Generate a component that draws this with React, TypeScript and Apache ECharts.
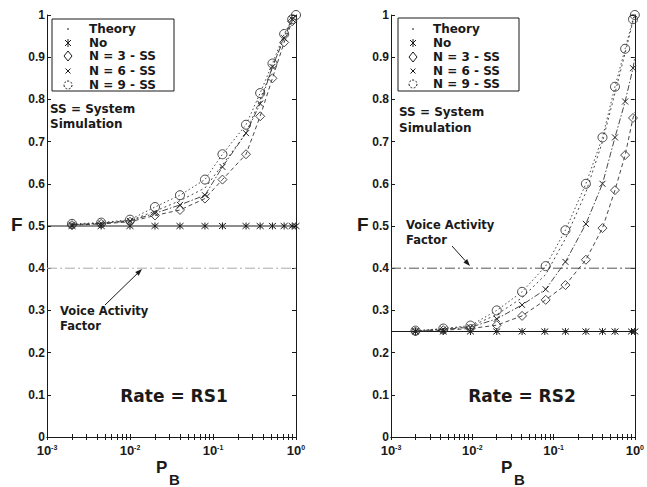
import React, { useEffect, useRef } from "react";
import * as echarts from "echarts";

// ---------- data ----------
const Y_TICKS = [0, 0.1, 0.2, 0.3, 0.4, 0.5, 0.6, 0.7, 0.8, 0.9, 1];
const X_LABELS = [0.001, 0.01, 0.1, 1];
const X_TICKS = [
  0.001, 0.002, 0.003, 0.004, 0.005, 0.006, 0.007, 0.008, 0.009,
  0.01, 0.02, 0.03, 0.04, 0.05, 0.06, 0.07, 0.08, 0.09,
  0.1, 0.2, 0.3, 0.4, 0.5, 0.6, 0.7, 0.8, 0.9, 1,
];
const VOICE_ACTIVITY = 0.4;
const VA_PB = [0.001, 1];

// Left panel: Rate = RS1
const L_NO_PB = [0.001, 0.002, 0.0045, 0.01, 0.02, 0.04, 0.08, 0.13, 0.25, 0.37, 0.52, 0.72, 0.9, 1.0];
const L_NO = [0.5, 0.5, 0.5, 0.5, 0.5, 0.5, 0.5, 0.5, 0.5, 0.5, 0.5, 0.5, 0.5, 0.5];
const L_PB = [0.002, 0.0045, 0.01, 0.02, 0.04, 0.08, 0.13, 0.25, 0.37, 0.52, 0.72, 0.9, 1.0];
const L_THEORY = [0.503, 0.507, 0.513, 0.535, 0.56, 0.59, 0.645, 0.72, 0.8, 0.875, 0.95, 0.99, 1.0];
const L_N3 = [0.502, 0.505, 0.51, 0.525, 0.538, 0.565, 0.61, 0.67, 0.76, 0.85, 0.935, 0.985, 1.0];
const L_N6 = [0.503, 0.506, 0.512, 0.53, 0.55, 0.573, 0.64, 0.72, 0.79, 0.877, 0.945, 0.99, 1.0];
const L_N9 = [0.505, 0.508, 0.515, 0.545, 0.573, 0.61, 0.67, 0.74, 0.815, 0.885, 0.955, 0.99, 1.0];

// Right panel: Rate = RS2
const R_NO_PB = [0.001, 0.002, 0.0044, 0.0095, 0.02, 0.041, 0.078, 0.14, 0.25, 0.4, 0.57, 0.91, 1.0];
const R_NO = [0.25, 0.25, 0.25, 0.25, 0.25, 0.25, 0.25, 0.25, 0.25, 0.25, 0.25, 0.25, 0.25];
const R_PB = [0.002, 0.0044, 0.0095, 0.02, 0.041, 0.08, 0.14, 0.25, 0.4, 0.57, 0.76, 0.95, 1.0];
const R_THEORY = [0.251, 0.256, 0.262, 0.29, 0.33, 0.385, 0.47, 0.58, 0.7, 0.815, 0.91, 0.985, 1.0];
const R_N3 = [0.25, 0.253, 0.257, 0.265, 0.287, 0.325, 0.36, 0.42, 0.495, 0.585, 0.668, 0.756, 0.77];
const R_N6 = [0.251, 0.255, 0.26, 0.28, 0.313, 0.35, 0.415, 0.505, 0.6, 0.71, 0.795, 0.874, 0.9];
const R_N9 = [0.252, 0.257, 0.264, 0.3, 0.344, 0.405, 0.49, 0.6, 0.71, 0.83, 0.92, 0.99, 1.0];

const LEGEND = ["Theory", "No", "N = 3 - SS", "N = 6 - SS", "N = 9 - SS"];

// ---------- styles ----------
const FONT = "Liberation Sans";
const FONT_T = "DejaVu Sans";
const INK = "#1a1a1a";
const ASTERISK = "path://M0,0L10,10M10,0L0,10M5,-1L5,11";
const XMARK = "path://M0,0L10,10M10,0L0,10";

const GRIDS = [
  { left: 47, top: 15, width: 249, height: 422 },
  { left: 391, top: 15, width: 249, height: 422 },
];

function zip(xs: number[], ys: number[]) {
  return xs.map((x, i) => [x, ys[i]]);
}

function xAxes(gridIndex: number) {
  const base = {
    type: "log" as const,
    logBase: 10,
    min: 0.001,
    max: 1,
    gridIndex,
    axisLine: { show: true, lineStyle: { color: INK, width: 1 } },
    axisTick: { show: true, inside: true, length: 3, customValues: X_TICKS, lineStyle: { color: INK } },
    minorTick: { show: false },
    splitLine: { show: false },
    minorSplitLine: { show: false },
  };
  return [
    {
      ...base,
      position: "bottom",
      axisLabel: {
        margin: 7,
        customValues: X_LABELS,
        formatter: (v: number) => {
          const e = Math.round(Math.log10(v));
          return `{b|10}{s|${e}}`;
        },
        rich: {
          b: { fontFamily: FONT, fontWeight: "bold", fontSize: 13, lineHeight: 13, padding: [3, 0, 0, 0], verticalAlign: "bottom", color: INK },
          s: { fontFamily: FONT, fontWeight: "bold", fontSize: 7, lineHeight: 8, verticalAlign: "top", color: INK },
        },
      },
    },
    { ...base, position: "top", axisLabel: { show: false } },
  ];
}

function yAxes(gridIndex: number) {
  const base = {
    type: "value" as const,
    min: 0,
    max: 1,
    interval: 0.1,
    gridIndex,
    axisLine: { show: true, lineStyle: { color: INK, width: 1 } },
    axisTick: { show: true, inside: true, length: 4, lineStyle: { color: INK } },
    splitLine: { show: false },
  };
  return [
    {
      ...base,
      position: "left",
      axisLabel: {
        margin: 2,
        fontFamily: FONT,
        fontWeight: "bold",
        fontSize: 12,
        color: INK,
        formatter: (v: number) => {
          const r = Math.round(v * 10) / 10;
          return Y_TICKS.includes(r) ? (r === 0 ? "0" : r === 1 ? "1" : r.toFixed(1)) : "";
        },
      },
    },
    { ...base, position: "right", axisLabel: { show: false } },
  ];
}

function panelSeries(
  p: number,
  noPb: number[],
  no: number[],
  pb: number[],
  th: number[],
  n3: number[],
  n6: number[],
  n9: number[],
  vaColor: string
) {
  const xi = p * 2;
  const yi = p * 2;
  const common = { xAxisIndex: xi, yAxisIndex: yi, silent: true, clip: false };
  const last = pb.length - 1;
  const noEnd = (arr: number[][]) => arr.map((d, i) => (i === last ? { value: d, symbol: "none" } : d));
  return [
    {
      ...common,
      type: "line",
      name: "Voice Activity Factor",
      data: zip(VA_PB, [VOICE_ACTIVITY, VOICE_ACTIVITY]),
      symbol: "none",
      lineStyle: { color: vaColor, width: 1, type: [10, 3, 2, 3] },
    },
    {
      ...common,
      type: "line",
      name: "No",
      data: zip(noPb, no).map((d, i) => (i === 0 ? { value: d, symbol: "none" } : d)),
      symbol: ASTERISK,
      symbolSize: 7,
      itemStyle: { color: "none", borderColor: INK, borderWidth: 1 },
      lineStyle: { color: INK, width: 1 },
    },
    {
      ...common,
      type: "line",
      name: "Theory",
      data: zip(pb, th),
      symbol: "none",
      lineStyle: { color: "#333", width: 0.9, type: [2, 3] },
    },
    {
      ...common,
      type: "line",
      name: "N = 3 - SS",
      data: noEnd(zip(pb, n3)),
      symbol: "diamond",
      symbolSize: 9,
      itemStyle: { color: "none", borderColor: "#333", borderWidth: 0.9 },
      lineStyle: { color: "#333", width: 0.9, type: [4, 3] },
    },
    {
      ...common,
      type: "line",
      name: "N = 6 - SS",
      data: noEnd(zip(pb, n6)),
      symbol: XMARK,
      symbolSize: 6,
      itemStyle: { color: "none", borderColor: "#222", borderWidth: 1 },
      lineStyle: { color: "#333", width: 0.9, type: [6, 2, 1.5, 2] },
    },
    {
      ...common,
      type: "line",
      name: "N = 9 - SS",
      data: zip(pb, n9),
      symbol: "circle",
      symbolSize: 9,
      itemStyle: { color: "none", borderColor: "#333", borderWidth: 0.9 },
      lineStyle: { color: "#333", width: 0.9, type: [1.5, 2.5] },
    },
  ];
}

function text(x: number, y: number, s: string, size: number, extra: any = {}) {
  return {
    type: "text",
    x,
    y,
    silent: true,
    style: {
      text: s,
      fontFamily: FONT_T,
      fontWeight: "bold",
      fontSize: size,
      fill: INK,
      verticalAlign: "middle",
      ...extra,
    },
  };
}

function legendGraphic(box: { x: number; y: number; w: number; h: number }, symX: number, txtX: number, rows: number[]) {
  const st = { stroke: INK, lineWidth: 1, fill: "none" };
  const els: any[] = [
    { type: "rect", shape: { x: box.x, y: box.y, width: box.w, height: box.h }, style: { stroke: INK, lineWidth: 1, fill: "#fff" }, silent: true },
  ];
  els.push({ type: "line", shape: { x1: symX - 1, y1: rows[0], x2: symX + 1, y2: rows[0] }, style: st, silent: true });
  const a = 3;
  els.push({ type: "line", shape: { x1: symX - a, y1: rows[1] - a, x2: symX + a, y2: rows[1] + a }, style: st, silent: true });
  els.push({ type: "line", shape: { x1: symX + a, y1: rows[1] - a, x2: symX - a, y2: rows[1] + a }, style: st, silent: true });
  els.push({ type: "line", shape: { x1: symX, y1: rows[1] - a - 1, x2: symX, y2: rows[1] + a + 1 }, style: st, silent: true });
  els.push({
    type: "polygon",
    shape: { points: [[symX, rows[2] - 5], [symX + 4, rows[2]], [symX, rows[2] + 5], [symX - 4, rows[2]]] },
    style: st,
    silent: true,
  });
  const b = 2.5;
  els.push({ type: "line", shape: { x1: symX - b, y1: rows[3] - b, x2: symX + b, y2: rows[3] + b }, style: st, silent: true });
  els.push({ type: "line", shape: { x1: symX + b, y1: rows[3] - b, x2: symX - b, y2: rows[3] + b }, style: st, silent: true });
  els.push({ type: "circle", shape: { cx: symX, cy: rows[4], r: 4 }, style: { ...st, lineDash: [2, 1.5] }, silent: true });
  LEGEND.forEach((name, i) => els.push(text(txtX, rows[i], name, 12)));
  return els;
}

function arrow(x1: number, y1: number, x2: number, y2: number) {
  const ang = Math.atan2(y2 - y1, x2 - x1);
  const L = 7;
  const W = 2.5;
  const bx = x2 - L * Math.cos(ang);
  const by = y2 - L * Math.sin(ang);
  const px = -Math.sin(ang) * W;
  const py = Math.cos(ang) * W;
  return [
    { type: "line", shape: { x1, y1, x2: bx, y2: by }, style: { stroke: INK, lineWidth: 1 }, silent: true },
    { type: "polygon", shape: { points: [[x2, y2], [bx + px, by + py], [bx - px, by - py]] }, style: { fill: INK }, silent: true },
  ];
}

function buildOption() {
  const graphic: any[] = [
    ...legendGraphic({ x: 52, y: 19, w: 122, h: 72 }, 68, 89, [29, 43, 56, 71, 85]),
    ...legendGraphic({ x: 398, y: 18, w: 121, h: 73 }, 413, 433, [29, 43, 57, 71, 84]),
    text(50, 109, "SS = System", 12),
    text(50, 124, "Simulation", 12),
    text(399, 112, "SS = System", 12),
    text(399, 128, "Simulation", 12),
    text(60, 311, "Voice Activity", 11.5),
    text(60, 326, "Factor", 11.5),
    ...arrow(105, 305, 142, 269),
    text(406, 225, "Voice Activity", 11.5),
    text(406, 240, "Factor", 11.5),
    ...arrow(452, 246, 470, 266),
    text(174, 396, "Rate = RS1", 17, { align: "center" }),
    text(522, 396, "Rate = RS2", 17, { align: "center" }),
    text(11, 224, "F", 19, { fontFamily: FONT }),
    text(357, 224, "F", 19, { fontFamily: FONT }),
    text(156, 467, "P", 17, { fontFamily: FONT }),
    text(169, 479, "B", 15, { fontFamily: FONT }),
    text(501, 467, "P", 17, { fontFamily: FONT }),
    text(514, 479, "B", 15, { fontFamily: FONT }),
  ];

  return {
    animation: false,
    backgroundColor: "#fff",
    grid: GRIDS,
    xAxis: [...xAxes(0), ...xAxes(1)],
    yAxis: [...yAxes(0), ...yAxes(1)],
    series: [
      ...panelSeries(0, L_NO_PB, L_NO, L_PB, L_THEORY, L_N3, L_N6, L_N9, "#aaa"),
      ...panelSeries(1, R_NO_PB, R_NO, R_PB, R_THEORY, R_N3, R_N6, R_N9, "#555"),
    ],
    graphic,
  };
}

export default function App() {
  const ref = useRef<HTMLDivElement>(null);
  useEffect(() => {
    if (!ref.current) return;
    const chart = echarts.init(ref.current, undefined, { renderer: "svg" });
    chart.setOption(buildOption() as any);
    return () => chart.dispose();
  }, []);
  return (
    <div
      ref={ref}
      style={{ position: "absolute", left: 0, top: 0, width: 647, height: 487, background: "#fff" }}
    />
  );
}
